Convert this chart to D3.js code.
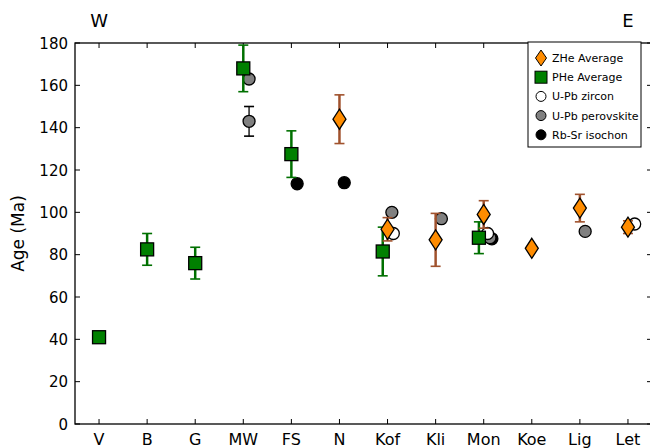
<!DOCTYPE html>
<html>
<head>
<meta charset="utf-8">
<script src="https://cdn.jsdelivr.net/npm/d3@7"></script>
<style>
  body { margin: 0; background: #fff; }
  text { font-family: "DejaVu Sans", sans-serif; }
</style>
</head>
<body>
<script>
var w = 650;
var h = 448;
var margin = { top: 43, right: -2, bottom: 24, left: 75 };

// sample sites, west to east
var categories = ["V", "B", "G", "MW", "FS", "N", "Kof", "Kli", "Mon", "Koe", "Lig", "Let"];
var yTicks = [0, 20, 40, 60, 80, 100, 120, 140, 160, 180];

// [site, age, error, x offset within the site]
var zheAvg = [
    ["N", 144, 11.5, 0], ["Kof", 92, 5.5, 0], ["Kli", 87, 12.5, 0],
    ["Mon", 99, 6.5, 0], ["Koe", 83, 0, 0], ["Lig", 102, 6.5, 0], ["Let", 93, 3, 0]
];
var pheAvg = [
    ["V", 41, 0, 0], ["B", 82.5, 7.5, 0], ["G", 76, 7.5, 0], ["MW", 168, 11, 0],
    ["FS", 127.5, 11, 0], ["Kof", 81.5, 11.5, -0.1], ["Mon", 88, 7.5, -0.1]
];
var upbZircon = [
    ["Kof", 90, 0, 0.12], ["Mon", 90, 0, 0.08], ["Let", 94.5, 0, 0.14]
];
var upbPerovskite = [
    ["MW", 163, 0, 0.12], ["MW", 143, 7, 0.12], ["Kof", 100, 0, 0.09],
    ["Kli", 97, 0, 0.12], ["Mon", 88, 0, 0.13], ["Lig", 91, 0, 0.11]
];
var rbsrIsochron = [
    ["FS", 113.5, 0, 0.12], ["N", 114, 0, 0.1], ["Mon", 87.5, 0, 0.17]
];

var svg = d3.select("body").append("svg")
    .attr("width", w)
    .attr("height", h);

var x = d3.scaleLinear()
    .domain([-0.5, categories.length - 0.5])
    .range([margin.left, w - margin.right]);

var y = d3.scaleLinear()
    .domain([0, 180])
    .range([h - margin.bottom, margin.top]);

function px(d) { return x(categories.indexOf(d[0]) + d[3]); }
function py(d) { return y(d[1]); }

// frame
var x0 = x.range()[0], x1 = x.range()[1], y0 = y.range()[0], y1 = y.range()[1];
svg.append("rect")
    .attr("x", x0).attr("y", y1)
    .attr("width", x1 - x0).attr("height", y0 - y1)
    .attr("fill", "none").attr("stroke", "#000").attr("stroke-width", 1.3);

// inward ticks on all four sides
var tickLen = 5;
categories.forEach(function(c, i) {
    svg.append("line").attr("x1", x(i)).attr("x2", x(i)).attr("y1", y0).attr("y2", y0 - tickLen).attr("stroke", "#000");
    svg.append("line").attr("x1", x(i)).attr("x2", x(i)).attr("y1", y1).attr("y2", y1 + tickLen).attr("stroke", "#000");
    svg.append("text").attr("x", x(i)).attr("y", y0 + 21)
        .attr("text-anchor", "middle").attr("font-size", 16).text(c);
});
yTicks.forEach(function(t) {
    svg.append("line").attr("x1", x0).attr("x2", x0 + tickLen).attr("y1", y(t)).attr("y2", y(t)).attr("stroke", "#000");
    svg.append("line").attr("x1", x1).attr("x2", x1 - tickLen).attr("y1", y(t)).attr("y2", y(t)).attr("stroke", "#000");
    svg.append("text").attr("x", x0 - 7).attr("y", y(t) + 5.5)
        .attr("text-anchor", "end").attr("font-size", 15).text(t);
});

svg.append("text")
    .attr("transform", "translate(24," + (y(90)) + ") rotate(-90)")
    .attr("text-anchor", "middle").attr("font-size", 17)
    .text("Age (Ma)");

svg.append("text").attr("x", x(0)).attr("y", 27).attr("text-anchor", "middle").attr("font-size", 18).text("W");
svg.append("text").attr("x", x(11)).attr("y", 27).attr("text-anchor", "middle").attr("font-size", 18).text("E");

// error bars
function errorBars(data, color, width) {
    var g = svg.append("g").attr("stroke", color).attr("stroke-width", width);
    data.filter(function(d) { return d[2] > 0; }).forEach(function(d) {
        var cx = px(d), top = y(d[1] + d[2]), bot = y(d[1] - d[2]);
        g.append("line").attr("x1", cx).attr("x2", cx).attr("y1", top).attr("y2", bot);
        g.append("line").attr("x1", cx - 5).attr("x2", cx + 5).attr("y1", top).attr("y2", top).attr("stroke-width", 1.6);
        g.append("line").attr("x1", cx - 5).attr("x2", cx + 5).attr("y1", bot).attr("y2", bot).attr("stroke-width", 1.6);
    });
}

var diamond = "M0,-10L6.5,0L0,10L-6.5,0Z";

function circles(data, fill) {
    svg.append("g").selectAll("circle")
        .data(data).enter().append("circle")
        .attr("cx", px).attr("cy", py).attr("r", 6)
        .attr("fill", fill).attr("stroke", "#000").attr("stroke-width", 1.3);
}

errorBars(upbPerovskite, "#000", 1.3);
circles(rbsrIsochron, "#000");
circles(upbPerovskite, "#808080");
circles(upbZircon, "#fff");

errorBars(pheAvg, "#007000", 2.5);
svg.append("g").selectAll("rect")
    .data(pheAvg).enter().append("rect")
    .attr("x", function(d) { return px(d) - 6.5; })
    .attr("y", function(d) { return py(d) - 6.5; })
    .attr("width", 13).attr("height", 13)
    .attr("fill", "#008000").attr("stroke", "#000").attr("stroke-width", 1.3);

errorBars(zheAvg, "#a0522d", 2.5);
svg.append("g").selectAll("path")
    .data(zheAvg).enter().append("path")
    .attr("d", diamond)
    .attr("transform", function(d) { return "translate(" + px(d) + "," + py(d) + ")"; })
    .attr("fill", "#ff8c00").attr("stroke", "#000").attr("stroke-width", 1.3);

// legend
var lg = svg.append("g").attr("transform", "translate(528,42)");
lg.append("rect").attr("width", 113).attr("height", 105)
    .attr("fill", "#fff").attr("stroke", "#000").attr("stroke-width", 1);
var legendItems = [
    { label: "ZHe Average", shape: "diamond", fill: "#ff8c00" },
    { label: "PHe Average", shape: "square", fill: "#008000" },
    { label: "U-Pb zircon", shape: "circle", fill: "#fff" },
    { label: "U-Pb perovskite", shape: "circle", fill: "#808080" },
    { label: "Rb-Sr isochon", shape: "circle", fill: "#000" }
];
legendItems.forEach(function(d, i) {
    var cy = 16 + i * 19.2;
    var g = lg.append("g").attr("transform", "translate(13," + cy + ")");
    if (d.shape === "diamond") {
        g.append("path").attr("d", "M0,-8L5.5,0L0,8L-5.5,0Z").attr("fill", d.fill).attr("stroke", "#000");
    } else if (d.shape === "square") {
        g.append("rect").attr("x", -6).attr("y", -6).attr("width", 12).attr("height", 12).attr("fill", d.fill).attr("stroke", "#000");
    } else {
        g.append("circle").attr("r", 5).attr("fill", d.fill).attr("stroke", "#000");
    }
    lg.append("text").attr("x", 24).attr("y", cy + 4).attr("font-size", 11).text(d.label);
});
</script>
</body>
</html>
